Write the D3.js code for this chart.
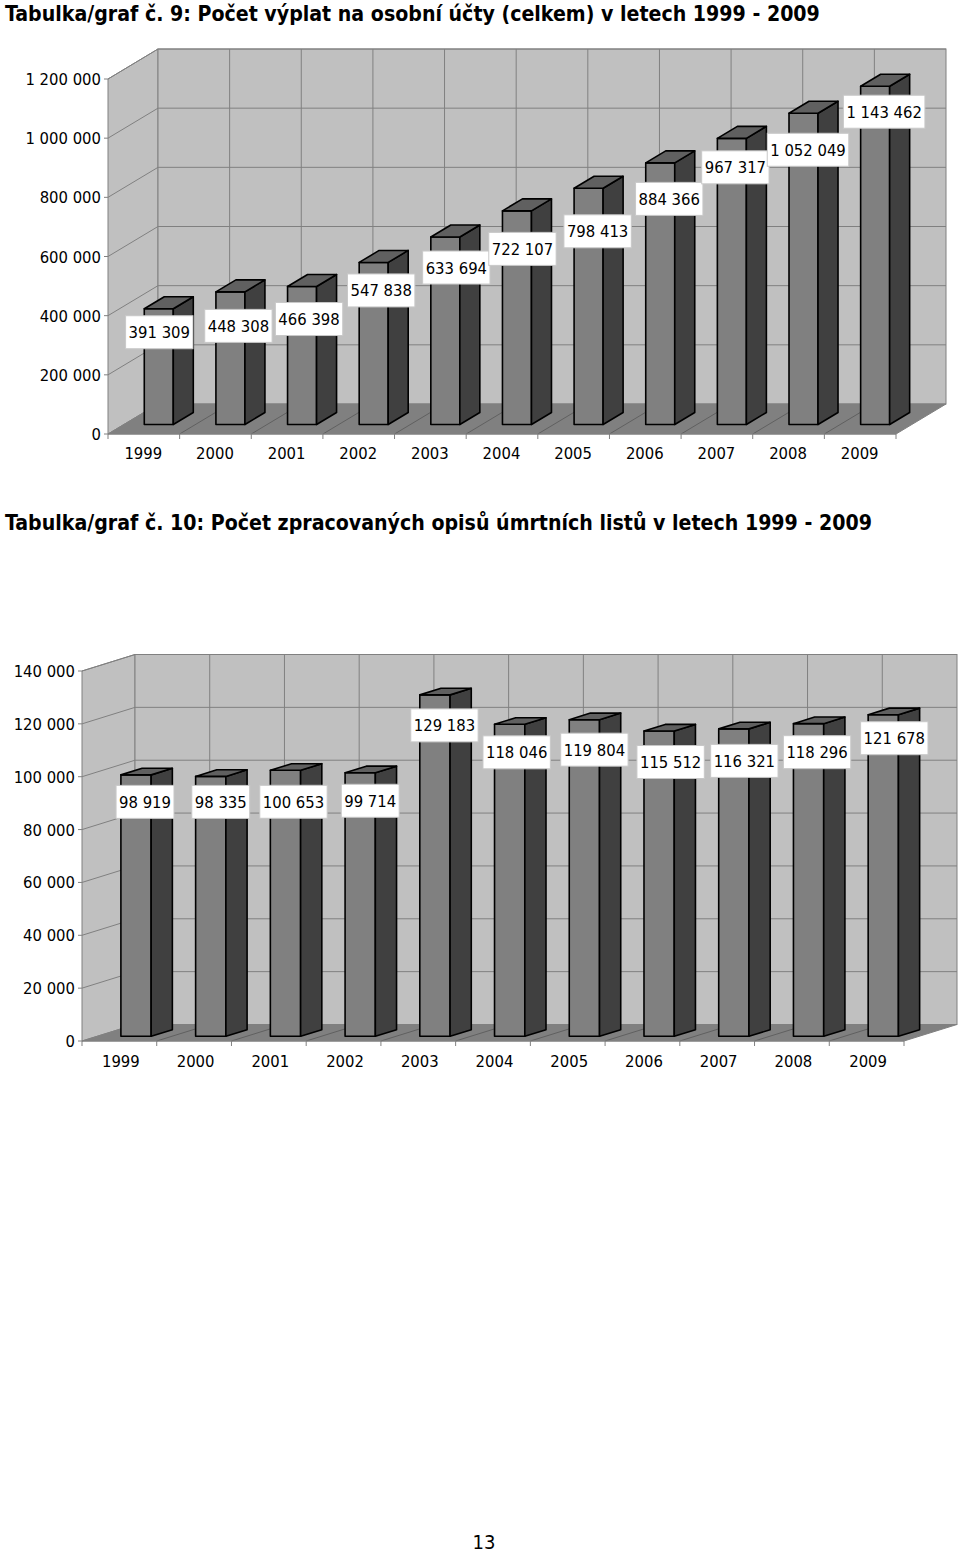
<!DOCTYPE html>
<html lang="cs">
<head>
	<meta charset="utf-8">
	<title>Tabulka/graf</title>
	<script src="https://cdn.jsdelivr.net/npm/d3@7"></script>
	<style>
		html, body { margin: 0; padding: 0; background: #fff; }
		svg { display: block; }
		text { font-family: "DejaVu Sans", sans-serif; font-stretch: condensed; fill: #000; }
		.title { font-size: 21.15px; font-weight: bold; }
		.tick-label { font-size: 16.5px; }
		.value-label { font-size: 16.5px; }
	</style>
</head>
<body>
	<div id="chart"></div>

	<script>
		var years = ["1999", "2000", "2001", "2002", "2003", "2004", "2005", "2006", "2007", "2008", "2009"];

		var payouts = [391309, 448308, 466398, 547838, 633694, 722107, 798413, 884366, 967317, 1052049, 1143462];
		var payoutTicks = [0, 200000, 400000, 600000, 800000, 1000000, 1200000];
		var payoutNudgeX = [0.5, 8, 7, 7.5, 11, 5.5, 9, 9, 3.5, 4.5, 9];
		var payoutNudgeY = [23.5, 34, 32.5, 28, 30.5, 38, 43, 36, 29, 36.5, 25.5];

		var certificates = [98919, 98335, 100653, 99714, 129183, 118046, 119804, 115512, 116321, 118296, 121678];
		var certificateTicks = [0, 20000, 40000, 60000, 80000, 100000, 120000, 140000];
		var certificateNudgeX = [9, 10, 8, 10, 9.5, 7, 10, 11.5, 10.5, 8.5, 11];
		var certificateNudgeY = [27, 25.5, 31.5, 28, 30.5, 28, 30, 31, 32, 28.5, 23.5];

		var title1 = "Tabulka/graf č. 9: Počet výplat na osobní účty (celkem) v letech 1999 - 2009";
		var title2 = "Tabulka/graf č. 10: Počet zpracovaných opisů úmrtních listů v letech 1999 - 2009";
		var pageNumber = "13";

		var w = 960,
		    h = 1554;

		var svg = d3.select("#chart")
			.append("svg")
			.attr("width", w)
			.attr("height", h);

		// 1 234 567 with plain spaces, as in the original
		function spaced(n) {
			return String(n).replace(/\B(?=(\d{3})+$)/g, " ");
		}

		function pts(a) {
			return a.map(function(p) { return p.join(","); }).join(" ");
		}

		function drawChart(o) {
			var g = svg.append("g");

			var x = d3.scaleBand().domain(o.categories).range([o.left, o.right]);
			var y = d3.scaleLinear().domain([0, o.max]).range([o.bottom, o.top]);
			var dx = o.depthX, dy = o.depthY;

			// side wall and back wall
			g.append("polygon")
				.attr("points", pts([[o.left, o.bottom], [o.left + dx, o.bottom + dy], [o.left + dx, o.top + dy], [o.left, o.top]]))
				.attr("fill", "#c0c0c0").attr("stroke", "#808080");
			g.append("rect")
				.attr("x", o.left + dx).attr("y", o.top + dy)
				.attr("width", o.right - o.left).attr("height", o.bottom - o.top)
				.attr("fill", "#c0c0c0").attr("stroke", "#808080");

			// floor
			g.append("polygon")
				.attr("points", pts([[o.left, o.bottom], [o.right, o.bottom], [o.right + dx, o.bottom + dy], [o.left + dx, o.bottom + dy]]))
				.attr("fill", "#808080").attr("stroke", "#808080");

			// gridlines
			g.selectAll(".grid").data(o.ticks.slice(1)).enter()
				.append("polyline")
				.attr("points", function(d) {
					return pts([[o.left, y(d)], [o.left + dx, y(d) + dy], [o.right + dx, y(d) + dy]]);
				})
				.attr("fill", "none").attr("stroke", "#808080");

			var edges = o.categories.map(function(c) { return x(c); }).concat([o.right]);
			g.selectAll(".vgrid").data(edges.slice(1, -1)).enter()
				.append("line")
				.attr("x1", function(d) { return d + dx; })
				.attr("x2", function(d) { return d + dx; })
				.attr("y1", o.top + dy)
				.attr("y2", o.bottom + dy)
				.attr("stroke", "#808080");

			// lines across the floor, with the ticks under it
			g.selectAll(".floorline").data(edges.slice(1, -1)).enter()
				.append("line")
				.attr("x1", function(d) { return d; })
				.attr("y1", o.bottom)
				.attr("x2", function(d) { return d + dx; })
				.attr("y2", o.bottom + dy)
				.attr("stroke", "#606060");
			g.selectAll(".xtick").data(edges).enter()
				.append("line")
				.attr("x1", function(d) { return d; })
				.attr("x2", function(d) { return d; })
				.attr("y1", o.bottom)
				.attr("y2", o.bottom + 5)
				.attr("stroke", "#808080");
			g.append("line")
				.attr("x1", o.left).attr("x2", o.right)
				.attr("y1", o.bottom).attr("y2", o.bottom)
				.attr("stroke", "#808080");

			// y ticks
			g.selectAll(".ytick").data(o.ticks).enter()
				.append("line")
				.attr("x1", o.left - 4).attr("x2", o.left)
				.attr("y1", function(d) { return y(d); })
				.attr("y2", function(d) { return y(d); })
				.attr("stroke", "#808080");
			g.selectAll(".ylabel").data(o.ticks).enter()
				.append("text")
				.attr("class", "tick-label")
				.attr("x", o.left - 7)
				.attr("y", function(d) { return y(d) + 6; })
				.attr("text-anchor", "end")
				.text(spaced);

			// x labels
			g.selectAll(".xlabel").data(o.categories).enter()
				.append("text")
				.attr("class", "tick-label")
				.attr("x", function(d) { return x(d) + x.bandwidth() / 2 + o.labelShift; })
				.attr("y", o.bottom + 25 + o.labelDrop)
				.attr("text-anchor", "middle")
				.text(function(d) { return d; });

			// bars sit one third of the way into the floor
			var barW = x.bandwidth() * 0.405;
			var barIn = dx / 3, barUp = dy / 3 + o.barDrop;
			var sx = dx * 0.4, sy = dy * 0.4;
			var barX = function(c) { return x(c) + (x.bandwidth() - barW) / 2 + barIn - o.barShift; };
			var barBase = y(0) + barUp;

			var bars = g.selectAll(".bar")
				.data(o.values)
				.enter()
				.append("g")
				.attr("class", "bar")
				.attr("stroke", "#000")
				.attr("stroke-width", 1.6)
				.attr("stroke-linejoin", "round");

			bars.append("rect")
				.attr("x", function(d, i) { return barX(o.categories[i]); })
				.attr("y", function(d) { return y(d) + barUp; })
				.attr("width", barW)
				.attr("height", function(d) { return barBase - (y(d) + barUp); })
				.attr("fill", "#808080");
			bars.append("polygon")
				.attr("points", function(d, i) {
					var l = barX(o.categories[i]) + barW, t = y(d) + barUp;
					return pts([[l, t], [l + sx, t + sy], [l + sx, barBase + sy], [l, barBase]]);
				})
				.attr("fill", "#404040");
			bars.append("polygon")
				.attr("points", function(d, i) {
					var l = barX(o.categories[i]), t = y(d) + barUp;
					return pts([[l, t], [l + sx, t + sy], [l + barW + sx, t + sy], [l + barW, t]]);
				})
				.attr("fill", "#606060");

			// value labels
			var labels = g.selectAll(".value")
				.data(o.values)
				.enter()
				.append("g")
				.attr("class", "value")
				.attr("transform", function(d, i) {
					var cx = barX(o.categories[i]) + barW / 2 + o.nudgeX[i];
					var cy = y(d) + barUp + o.nudgeY[i];
					return "translate(" + cx + "," + cy + ")";
				});
			labels.append("text")
				.attr("class", "value-label")
				.attr("text-anchor", "middle")
				.attr("y", 6)
				.text(spaced);
			labels.insert("rect", "text")
				.each(function() {
					var b = this.parentNode.querySelector("text").getBBox();
					d3.select(this)
						.attr("x", b.x - 3)
						.attr("y", -16.5)
						.attr("width", b.width + 6)
						.attr("height", 33);
				})
				.attr("fill", "#fff")
				.attr("stroke", "#c8c8c8");
		}

		svg.append("text").attr("class", "title").attr("x", 5).attr("y", 20.5).text(title1);
		svg.append("text").attr("class", "title").attr("x", 5).attr("y", 530).text(title2);

		drawChart({
			categories: years, values: payouts, ticks: payoutTicks, max: 1200000,
			nudgeX: payoutNudgeX, nudgeY: payoutNudgeY,
			left: 108, right: 896, top: 79, bottom: 434,
			depthX: 50, depthY: -30, barShift: 1.7, barDrop: 0.5, labelShift: -0.5, labelDrop: 0
		});

		drawChart({
			categories: years, values: certificates, ticks: certificateTicks, max: 140000,
			nudgeX: certificateNudgeX, nudgeY: certificateNudgeY,
			left: 82, right: 904, top: 671, bottom: 1041,
			depthX: 53, depthY: -16.5, barShift: 1, barDrop: 0.8, labelShift: 1.5, labelDrop: 1
		});

		svg.append("text")
			.attr("x", 484).attr("y", 1549)
			.attr("text-anchor", "middle")
			.attr("font-size", "20px")
			.text(pageNumber);
	</script>
</body>
</html>
